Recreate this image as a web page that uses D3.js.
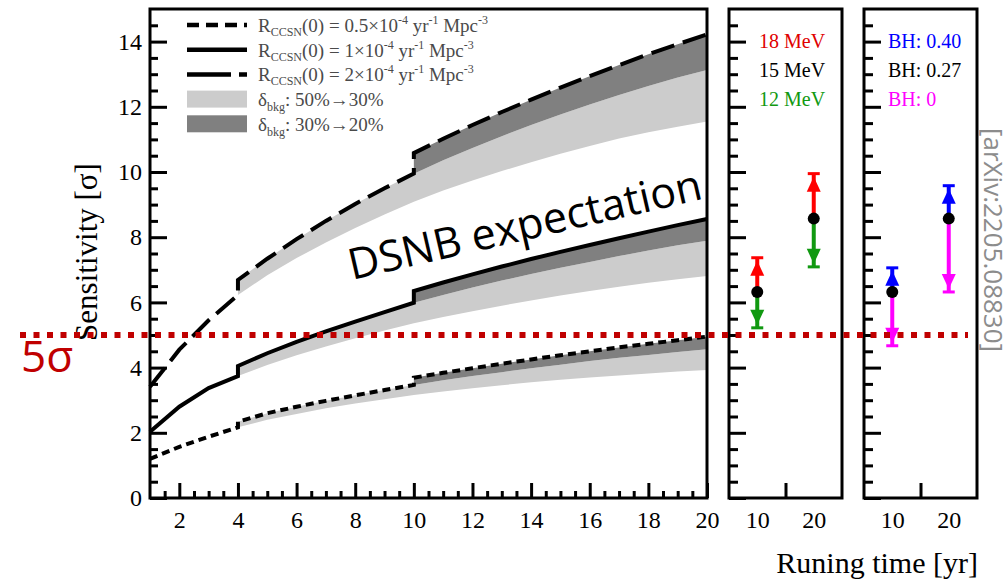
<!DOCTYPE html>
<html>
<head>
<meta charset="utf-8">
<script src="https://cdn.jsdelivr.net/npm/d3@7"></script>
<style>
  body { margin: 0; background: #fff; }
  svg { display: block; }
</style>
</head>
<body>
<script>
// ---- data ----
var years = [1,2,3,4,5,6,7,8,9,10,11,12,13,14,15,16,17,18,19,20];

// R = 0.5e-4 (dotted)
var low50 = [1.2,1.57,1.88,2.17,2.4,2.58,2.75,2.9,3.03,3.16,3.27,3.37,3.46,3.55,3.63,3.7,3.76,3.82,3.88,3.93];
var low30 = [null,null,null,2.34,2.6,2.8,2.98,3.15,3.31,3.47,3.61,3.74,3.86,3.98,4.09,4.2,4.3,4.39,4.48,4.56];
var low20 = [null,null,null,null,null,null,null,null,null,3.69,3.84,3.98,4.12,4.25,4.38,4.5,4.62,4.73,4.84,4.95];

// R = 1e-4 (solid)
var mid50 = [2.03,2.8,3.37,3.74,4.08,4.38,4.65,4.9,5.14,5.36,5.55,5.73,5.9,6.06,6.21,6.35,6.48,6.6,6.71,6.81];
var mid30 = [null,null,null,4.05,4.44,4.79,5.11,5.41,5.7,5.99,6.23,6.46,6.67,6.87,7.06,7.24,7.42,7.59,7.75,7.89];
var mid20 = [null,null,null,null,null,null,null,null,null,6.35,6.61,6.86,7.1,7.33,7.55,7.76,7.97,8.17,8.37,8.56];

// R = 2e-4 (dashed)
var high50 = [3.41,4.55,5.45,6.23,6.83,7.36,7.84,8.28,8.7,9.09,9.43,9.74,10.03,10.3,10.56,10.8,11.03,11.22,11.39,11.55];
var high30 = [null,null,null,6.69,7.34,7.94,8.5,9.02,9.5,9.95,10.36,10.74,11.1,11.44,11.76,12.07,12.36,12.64,12.9,13.13];
var high20 = [null,null,null,null,null,null,null,null,null,10.58,11.02,11.44,11.84,12.22,12.59,12.94,13.28,13.61,13.92,14.22];

// side panels
var pointYears = [10, 20];
var sens = [6.32, 8.57];
var up18MeV = [7.37, 9.95];
var down12MeV = [5.22, 7.09];
var upBH40 = [7.06, 9.58];
var downBH0 = [4.67, 6.32];

var yTicks = [0,2,4,6,8,10,12,14];
var xTicks = [2,4,6,8,10,12,14,16,18,20];
var sideTicks = [10, 20];

var serif = "'Liberation Serif', 'Times New Roman', serif";
var sans = "'Open Sans', 'Noto Sans', sans-serif";

var svg = d3.select("body").append("svg")
  .attr("width", 1005)
  .attr("height", 580);

svg.append("rect").attr("width", 1005).attr("height", 580).attr("fill", "#fff");

// scales
var y = d3.scaleLinear().domain([0, 15]).range([498, 9]);
var x = d3.scaleLinear().domain([1, 20]).range([150, 707]);
var xs1 = d3.scaleLinear().domain([5, 25]).range([729, 842]);
var xs2 = d3.scaleLinear().domain([5, 25]).range([864, 977]);

var halfSteps = d3.range(0.5, 15, 0.5).filter(function (v) { return v % 2 !== 0; });

// bands: light between 50% and 30%, dark between 30% and 20%
var area = d3.area()
  .defined(function (d) { return d[1] != null && d[2] != null; })
  .x(function (d) { return x(d[0]); })
  .y0(function (d) { return y(d[1]); })
  .y1(function (d) { return y(d[2]); });

var sets = [
  { a: low50, b: low30, c: low20, dash: "8,5" },
  { a: mid50, b: mid30, c: mid20, dash: null },
  { a: high50, b: high30, c: high20, dash: "24,9" }
];

var plot = svg.append("g");

sets.forEach(function (s) {
  var light = years.map(function (t, i) { return [t, s.a[i], s.b[i]]; });
  var dark = years.map(function (t, i) { return [t, s.b[i], s.c[i]]; });
  plot.append("path").attr("d", area(light)).attr("fill", "#cccccc");
  plot.append("path").attr("d", area(dark)).attr("fill", "#808080");
});

// curves with the steps at 4 and 10 years
var line = d3.line()
  .x(function (d) { return x(d[0]); })
  .y(function (d) { return y(d[1]); });

sets.forEach(function (s) {
  var pts = [];
  years.forEach(function (t, i) { if (t <= 4) pts.push([t, s.a[i]]); });
  years.forEach(function (t, i) { if (t >= 4 && t <= 10) pts.push([t, s.b[i]]); });
  years.forEach(function (t, i) { if (t >= 10) pts.push([t, s.c[i]]); });
  plot.append("path")
    .attr("d", line(pts))
    .attr("fill", "none")
    .attr("stroke", "#000")
    .attr("stroke-width", 4)
    .attr("stroke-dasharray", s.dash);
});

// axes - main
function styleAxis(g) {
  g.select(".domain").remove();
  g.selectAll("line").attr("stroke", "#000").attr("stroke-width", 3);
  g.selectAll("text").attr("font-family", serif).attr("font-size", 24).attr("fill", "#000");
}

svg.append("g").attr("transform", "translate(150,0)")
  .call(d3.axisLeft(y).tickValues(yTicks).tickSize(-17).tickPadding(8))
  .call(styleAxis);
svg.append("g").attr("transform", "translate(150,0)")
  .call(d3.axisLeft(y).tickValues(halfSteps).tickSize(-8).tickFormat(""))
  .call(styleAxis);
svg.append("g").attr("transform", "translate(0,498)")
  .call(d3.axisBottom(x).tickValues(xTicks).tickSize(-15).tickPadding(13))
  .call(styleAxis);
svg.append("g").attr("transform", "translate(0,498)")
  .call(d3.axisBottom(x).tickValues(d3.range(1.5, 20, 0.5).filter(function (v) { return v % 2 !== 0; })).tickSize(-7).tickFormat(""))
  .call(styleAxis);

svg.append("rect")
  .attr("x", 150).attr("y", 9).attr("width", 557).attr("height", 489)
  .attr("fill", "none").attr("stroke", "#000").attr("stroke-width", 3);

// side panels
function sidePanel(xs, up, down, upColor, downColor) {
  var g = svg.append("g");
  var x0 = xs.range()[0];
  g.append("g").attr("transform", "translate(" + x0 + ",0)")
    .call(d3.axisLeft(y).tickValues(yTicks).tickSize(-17).tickFormat(""))
    .call(styleAxis);
  g.append("g").attr("transform", "translate(" + x0 + ",0)")
    .call(d3.axisLeft(y).tickValues(halfSteps).tickSize(-9).tickFormat(""))
    .call(styleAxis);
  g.append("g").attr("transform", "translate(0,498)")
    .call(d3.axisBottom(xs).tickValues([15]).tickSize(-15).tickFormat(""))
    .call(styleAxis);
  g.append("g").attr("transform", "translate(0,498)")
    .call(d3.axisBottom(xs).tickValues(sideTicks).tickSize(0).tickPadding(13))
    .call(styleAxis);
  g.append("rect")
    .attr("x", x0).attr("y", 9)
    .attr("width", xs.range()[1] - x0).attr("height", 489)
    .attr("fill", "none").attr("stroke", "#000").attr("stroke-width", 3);

  function arrow(t, from, to, color) {
    var px = xs(t), y0 = y(from), y1 = y(to);
    var dir = y1 < y0 ? 1 : -1;   // 1 = arrow points up
    g.append("line").attr("x1", px).attr("x2", px).attr("y1", y0).attr("y2", y1)
      .attr("stroke", color).attr("stroke-width", 4);
    g.append("line").attr("x1", px - 6).attr("x2", px + 6).attr("y1", y1).attr("y2", y1)
      .attr("stroke", color).attr("stroke-width", 3);
    var tip = y1 + dir * 3, base = y1 + dir * 18;
    g.append("path")
      .attr("d", "M" + px + "," + tip + "L" + (px - 7) + "," + base + "L" + (px + 7) + "," + base + "Z")
      .attr("fill", color);
  }
  pointYears.forEach(function (t, i) {
    arrow(t, sens[i], up[i], upColor);
    arrow(t, sens[i], down[i], downColor);
  });
  g.selectAll("circle.pt").data(pointYears).enter().append("circle")
    .attr("class", "pt")
    .attr("cx", function (d) { return xs(d); })
    .attr("cy", function (d, i) { return y(sens[i]); })
    .attr("r", 6).attr("fill", "#000");
  return g;
}

sidePanel(xs1, up18MeV, down12MeV, "#ff0000", "#119911");
sidePanel(xs2, upBH40, downBH0, "#0000ff", "#ff00ff");

var labels1 = [["18 MeV", "#e00000"], ["15 MeV", "#000"], ["12 MeV", "#119911"]];
var labels2 = [["BH: 0.40", "#0000ff"], ["BH: 0.27", "#000"], ["BH: 0", "#ff00ff"]];
[[labels1, 759], [labels2, 888]].forEach(function (L) {
  L[0].forEach(function (d, i) {
    svg.append("text")
      .attr("x", L[1]).attr("y", 48 + i * 29)
      .attr("font-family", serif).attr("font-size", 20)
      .attr("fill", d[1]).text(d[0]);
  });
});

// legend
var leg = svg.append("g");
var legRows = [
  { type: "line", dash: "12,7", main: "(0) = 0.5\u00d710", sub: "CCSN" },
  { type: "line", dash: null, main: "(0) = 1\u00d710", sub: "CCSN" },
  { type: "line", dash: "44,8", main: "(0) = 2\u00d710", sub: "CCSN" },
  { type: "box", color: "#cccccc", text: ": 50%\u219230%" },
  { type: "box", color: "#808080", text: ": 30%\u219220%" }
];
legRows.forEach(function (r, i) {
  var cy = 25 + i * 24.7;
  if (r.type === "line") {
    leg.append("line").attr("x1", 187).attr("x2", 247).attr("y1", cy).attr("y2", cy)
      .attr("stroke", "#000").attr("stroke-width", 4.5).attr("stroke-dasharray", r.dash);
    var t = leg.append("text").attr("x", 258).attr("y", cy + 7)
      .attr("font-family", serif).attr("font-size", 19).attr("fill", "#4a4a4a");
    t.append("tspan").text("R");
    t.append("tspan").attr("font-size", 12).attr("dy", 4).text(r.sub);
    t.append("tspan").attr("dy", -4).text(r.main);
    t.append("tspan").attr("font-size", 12).attr("dy", -8).text("-4");
    t.append("tspan").attr("dy", 8).text(" yr");
    t.append("tspan").attr("font-size", 12).attr("dy", -8).text("-1");
    t.append("tspan").attr("dy", 8).text(" Mpc");
    t.append("tspan").attr("font-size", 12).attr("dy", -8).text("-3");
  } else {
    leg.append("rect").attr("x", 187).attr("y", cy - 8.5).attr("width", 60).attr("height", 17)
      .attr("fill", r.color);
    var tb = leg.append("text").attr("x", 258).attr("y", cy + 7)
      .attr("font-family", serif).attr("font-size", 19).attr("fill", "#4a4a4a");
    tb.append("tspan").text("\u03b4");
    tb.append("tspan").attr("font-size", 12).attr("dy", 5).text("bkg");
    tb.append("tspan").attr("dy", -5).text(r.text);
  }
});

// DSNB label
svg.append("text")
  .attr("transform", "translate(352,280) rotate(-13)")
  .attr("font-family", sans).attr("font-size", 43).attr("fill", "#000")
  .text("DSNB expectation");

// axis titles
svg.append("text")
  .attr("transform", "translate(97,252) rotate(-90)")
  .attr("text-anchor", "middle")
  .attr("font-family", serif).attr("font-size", 31).attr("fill", "#000")
  .text("Sensitivity [\u03c3]");

svg.append("text")
  .attr("x", 978).attr("y", 573).attr("text-anchor", "end")
  .attr("font-family", serif).attr("font-size", 30).attr("fill", "#000")
  .text("Runing time [yr]");

// 5 sigma line
svg.append("line")
  .attr("x1", 20).attr("x2", 968).attr("y1", y(5)).attr("y2", y(5))
  .attr("stroke", "#c00000").attr("stroke-width", 6).attr("stroke-dasharray", "6,7.5");
svg.append("text")
  .attr("x", 21).attr("y", 372)
  .attr("font-family", sans).attr("font-size", 44).attr("fill", "#c00000")
  .text("5\u03c3");

// arXiv stamp on the right edge
svg.append("text")
  .attr("transform", "translate(984,128) rotate(90)")
  .attr("font-family", sans).attr("font-size", 26).attr("fill", "#8c8c8c")
  .text("[arXiv:2205.08830]");
</script>
</body>
</html>
